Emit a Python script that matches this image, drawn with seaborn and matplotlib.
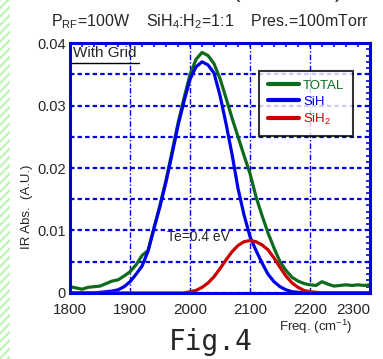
import numpy as np
import pandas as pd
import seaborn as sns
import matplotlib.pyplot as plt
from matplotlib.patches import Rectangle
from matplotlib.ticker import MultipleLocator

# wavenumber grid (cm^-1)
freq = np.arange(1800, 2310, 10)

sih = [0, 0, 0, 0, 0, 0.0001, 0.0002, 0.0003, 0.0005, 0.0010,
       0.0018, 0.0030, 0.0043, 0.0067, 0.0104, 0.0139, 0.0178, 0.0222, 0.0268, 0.0307,
       0.0342, 0.0362, 0.0370, 0.0365, 0.0352, 0.0316, 0.0271, 0.0222, 0.0167, 0.0125,
       0.0090, 0.0068, 0.0048, 0.0030, 0.0018, 0.0010, 0.0005, 0.0002, 0.0001, 0,
       0, 0, 0, 0, 0, 0, 0, 0, 0, 0, 0]

sih2 = [0, 0, 0, 0, 0, 0, 0, 0, 0, 0,
        0, 0, 0, 0, 0, 0, 0, 0, 0, 0,
        0.0002, 0.0004, 0.0009, 0.0016, 0.0026, 0.0039, 0.0053, 0.0066, 0.0076, 0.0082,
        0.0084, 0.0082, 0.0077, 0.0069, 0.0056, 0.0041, 0.0027, 0.0016, 0.0009, 0.0004,
        0.0002, 0.0001, 0, 0, 0, 0, 0, 0, 0, 0, 0]

total = [0.0010, 0.0008, 0.0006, 0.0009, 0.0010, 0.0011, 0.0015, 0.0019, 0.0021, 0.0027,
         0.0034, 0.0045, 0.0060, 0.0068, 0.0104, 0.0141, 0.0181, 0.0226, 0.0272, 0.0312,
         0.0350, 0.0374, 0.0385, 0.0380, 0.0367, 0.0343, 0.0312, 0.0280, 0.0250, 0.0220,
         0.0191, 0.0154, 0.0124, 0.0096, 0.0072, 0.0050, 0.0036, 0.0025, 0.0019, 0.0015,
         0.0013, 0.0012, 0.0018, 0.0014, 0.0011, 0.0012, 0.0013, 0.0012, 0.0013, 0.0012,
         0.0013]

xticks = [1800, 1900, 2000, 2100, 2200, 2300]
yticks = [0, 0.005, 0.01, 0.015, 0.02, 0.025, 0.03, 0.035, 0.04]
ytick_labels = ["0", "", "0.01", "", "0.02", "", "0.03", "", "0.04"]

green = "#0e6b1e"
blue = "#0000e6"
red = "#cc0000"

sns.set_style("white")
plt.rcParams["font.family"] = ["Liberation Sans", "DejaVu Sans"]
plt.rcParams["mathtext.default"] = "regular"

fig = plt.figure(figsize=(3.83, 3.59), dpi=100)
ax = fig.add_axes([0.183, 0.184, 0.783, 0.696])

sns.lineplot(x=freq, y=total, color=green, lw=2.3, label="TOTAL", ax=ax)
sns.lineplot(x=freq, y=sih, color=blue, lw=2.3, label="SiH", ax=ax)
sns.lineplot(x=freq, y=sih2, color=red, lw=2.3, label="SiH$_2$", ax=ax)

ax.set_xlim(1800, 2300)
ax.set_ylim(0, 0.04)
ax.set_xticks(xticks)
ax.set_xticklabels([str(t) for t in xticks])
ax.get_xticklabels()[-1].set_ha("right")
ax.set_yticks(yticks)
ax.set_yticklabels(ytick_labels)
ax.xaxis.set_minor_locator(MultipleLocator(20))
ax.yaxis.set_minor_locator(MultipleLocator(0.001))
ax.tick_params(which="both", direction="in", top=True, right=True,
               length=3, width=1.2, color=blue, labelsize=10.5)
ax.tick_params(axis="x", labelsize=11, pad=7)
ax.tick_params(axis="y", pad=3)

ax.grid(axis="y", which="major", color=blue, lw=1.6, ls=(0, (2, 1.4)))
ax.grid(axis="x", which="major", color=blue, lw=1.0, ls=(0, (4, 1.5, 1, 1.5)))

for s in ax.spines.values():
    s.set_color(blue)
    s.set_linewidth(2.2)

ax.set_ylabel("IR Abs.  (A.U.)", fontsize=9.5)
ax.yaxis.set_label_coords(-0.125, 0.344)
ax.set_xlabel("Freq. (cm$^{-1}$)", fontsize=9.5)
ax.xaxis.set_label_coords(0.82, -0.1)

# underlined "With Grid" label
ax.text(0.01, 0.96, "With Grid", transform=ax.transAxes,
        fontsize=11, va="center", ha="left")
ax.plot([0.007, 0.23], [0.92, 0.92], transform=ax.transAxes, color="black", lw=1)
ax.text(1962, 0.009, "Te=0.4 eV", fontsize=10, va="center", ha="left")

leg = ax.legend(loc="upper left", bbox_to_anchor=(0.63, 0.888), borderaxespad=0,
                frameon=True, fancybox=False, fontsize=9.5, handlelength=2.4,
                handletextpad=0.3, labelspacing=0.3, borderpad=0.65)
leg.get_frame().set_edgecolor("black")
leg.get_frame().set_linewidth(1.5)
for txt, c in zip(leg.get_texts(), [green, blue, red]):
    txt.set_color(c)
for h in leg.get_lines():
    h.set_linewidth(3)

fig.text(0.548, 0.939, "P$_{RF}$=100W    SiH$_4$:H$_2$=1:1    Pres.=100mTorr",
         fontsize=11.5, ha="center", va="center")
fig.text(0.551, 0.047, "Fig.4", family="DejaVu Sans Mono", fontsize=20,
         ha="center", va="center")
fig.text(0.617, 0.995, "(", fontsize=16, ha="center", va="bottom")
fig.text(0.885, 0.995, ")", fontsize=16, ha="center", va="bottom")

# light green hatched strip on the left edge
plt.rcParams["hatch.linewidth"] = 1.5
fig.patches.append(Rectangle((0, 0), 10 / 383, 1, transform=fig.transFigure,
                             facecolor="none", edgecolor="#bdf2b2", hatch="////",
                             lw=0, figure=fig))

fig.savefig("out.png", dpi=100)
